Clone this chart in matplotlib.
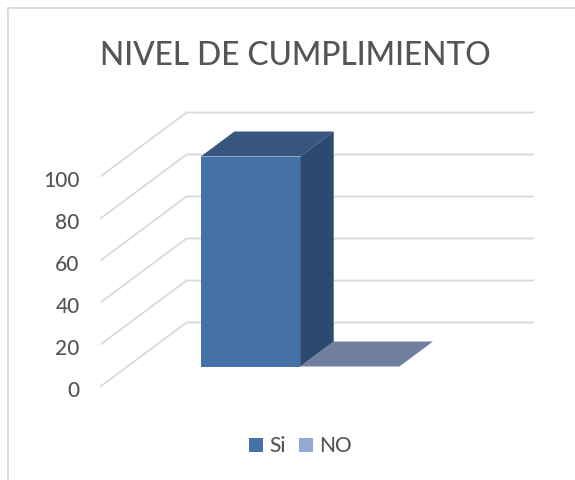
"""Nivel de cumplimiento: 3D-looking clustered column, drawn on flat axes."""
import matplotlib
matplotlib.use("Agg")
import matplotlib.pyplot as plt
from matplotlib.patches import Polygon, Rectangle
from matplotlib.transforms import ScaledTranslation

plt.rcParams["font.family"] = ["Lato", "DejaVu Sans"]

title = "NIVEL DE CUMPLIMIENTO"
series = ["Si", "NO"]
values = [100, 0]
ticks = [0, 20, 40, 60, 80, 100]

W, H = 575, 481
fig = plt.figure(figsize=(W / 100, H / 100), dpi=100)

# axes: x in bar-group units, y in value units, depth added as a shear
left, right, bottom, top = 100.5, 534, 387.5, 113.5
ax = fig.add_axes([left / W, 1 - bottom / H, (right - left) / W, (bottom - top) / H])
px_x = 347.5                      # pixels per x unit
px_y = 2.1                        # pixels per value unit
ax.set_xlim(0, (right - left) / px_x)
ax.set_ylim(0, (bottom - top) / px_y)
ax.patch.set_visible(False)
for s in ax.spines.values():
    s.set_visible(False)
ax.set_xticks([])
ax.set_yticks(ticks)
ax.tick_params(axis="y", length=0, pad=15, labelsize=15, labelcolor="#555555")
for lab in ax.get_yticklabels():
    lab.set_fontweight("medium")
    lab.set_transform(lab.get_transform() + ScaledTranslation(0, -1 / 72, fig.dpi_scale_trans))

depth_x = 86 / px_x
depth_y = 64 / px_y


def pt(x, v, d):
    return (x + d * depth_x, v + d * depth_y)


# gridlines: wall + side wall
for v in ticks:
    ax.plot(*zip(pt(0, v, 0), pt(0, v, 1), pt(1, v, 1)), color="#d9d9d9", lw=1.3,
            solid_joinstyle="miter", solid_capstyle="butt", zorder=1, clip_on=False)

bar_w = 99.3 / px_x
x0 = 0.5 - bar_w - 1 / px_x
d0, d1 = 0.3125, 0.703
fronts = ["#4472a8", "#7f93b8"]
tops = ["#36557f", "#717f9f"]
sides = ["#2c4a70", "#2c4a70"]
legend_cols = ["#4472a8", "#94a9d3"]
for i, v in enumerate(values):
    xa, xb = x0 + i * bar_w, x0 + (i + 1) * bar_w
    ax.add_patch(Polygon([pt(xa, 0, d0), pt(xb, 0, d0), pt(xb, v, d0), pt(xa, v, d0)],
                         fc=fronts[i], ec="none", zorder=3 - i))
    ax.add_patch(Polygon([pt(xa, v, d0), pt(xb, v, d0), pt(xb, v, d1), pt(xa, v, d1)],
                         fc=tops[i], ec="none", zorder=3 - i))
    ax.add_patch(Polygon([pt(xb, 0, d0), pt(xb, 0, d1), pt(xb, v, d1), pt(xb, v, d0)],
                         fc=sides[i], ec="none", zorder=3 - i))

fig.text(295.5 / W, 1 - 65 / H, title, ha="center", va="baseline", fontsize=22.8, color="#555555",
         fontweight="medium")

# legend
lx = [249, 299]
for name, col, x in zip(series, legend_cols, lx):
    fig.add_artist(Rectangle((x / W, 1 - 453 / H), 14 / W, 14 / H, transform=fig.transFigure,
                             fc=col, ec="none"))
    fig.text((x + 20) / W, 1 - 452 / H, name, ha="left", va="baseline", fontsize=15, color="#555555",
             fontweight="medium")

# chart frame, only top and left show
frame = dict(color="#d9d9d9", lw=1.3, transform=fig.transFigure)
fig.add_artist(plt.Line2D([8 / W, 8 / W], [0, 1 - 9 / H], **frame))
fig.add_artist(plt.Line2D([8 / W, 1], [1 - 9 / H, 1 - 9 / H], **frame))

fig.savefig("out.png", dpi=100)
